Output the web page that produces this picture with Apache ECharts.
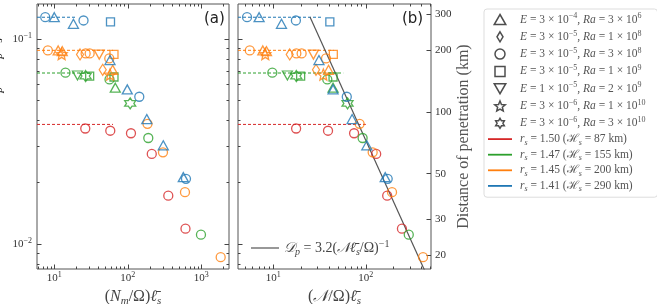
<!doctype html>
<html>
<head>
<meta charset="utf-8">
<title>Penetration distance</title>
<script src="https://cdn.jsdelivr.net/npm/echarts@6/dist/echarts.min.js"></script>
<style>
html, body { margin: 0; padding: 0; background: #fff; }
#chart { width: 657px; height: 304px; }
</style>
</head>
<body>
<div id="chart"></div>
<script>
// rows: [run index (legend marker), (N_m/Ω)l_s, (N/Ω)l_s, D_p]
var redPts = [
  [2, 26.4, 17.7, 0.0366],
  [2, 57.8, 39.1, 0.0357],
  [2, 110.5, 74.7, 0.0347],
  [2, 212, 129.3, 0.0275],
  [2, 355.6, 170, 0.0172],
  [2, 609.5, 245.2, 0.01188]
];
var greenPts = [
  [2, 14.2, 9.8, 0.0685],
  [4, 20.7, 14.25, 0.0664],
  [6, 26.7, 17.8, 0.0660],
  [3, 30.3, 19.8, 0.0660],
  [2, 56.4, 38.4, 0.0635],
  [3, 64.9, 44.3, 0.0653],
  [0, 67.6, 44.3, 0.0579],
  [6, 107.8, 63.5, 0.0485],
  [2, 190.1, 92.3, 0.0329],
  [2, 990, 290.5, 0.0111]
];
var orangePts = [
  [2, 8.18, 5.6, 0.0880],
  [0, 11.3, 7.74, 0.0880],
  [0, 12.85, 8.48, 0.0872],
  [5, 12.6, 8.23, 0.0845],
  [1, 22.4, 15.1, 0.0841],
  [2, 26.7, 17.8, 0.0851],
  [2, 30.3, 20.3, 0.0851],
  [4, 40.9, 27.2, 0.0840],
  [2, 56.0, 37.2, 0.0804],
  [3, 64.9, 44.6, 0.0841],
  [1, 45.6, 29.0, 0.0708],
  [0, 62.3, 39.6, 0.0708],
  [5, 57.3, 34.8, 0.0671],
  [2, 185.4, 85.7, 0.0386],
  [2, 301.2, 118.5, 0.0280],
  [2, 600, 191.7, 0.0179],
  [2, 1836, 414, 0.00862]
];
var bluePts = [
  [2, 7.54, 5.23, 0.1278],
  [0, 10.0, 7.06, 0.1278],
  [0, 18.2, 12.3, 0.1187],
  [2, 25.0, 17.6, 0.1232],
  [3, 58.2, 40.9, 0.1214],
  [0, 57.3, 31.2, 0.0790],
  [0, 98.4, 44.3, 0.0568],
  [2, 143.4, 62.3, 0.0523],
  [0, 181.4, 71.1, 0.0407],
  [0, 304, 102.5, 0.0303],
  [0, 569, 161.8, 0.0212],
  [2, 619, 172.1, 0.0208]
];

// r_s groups: red, green, orange, blue
var rsValues = ['1.50', '1.47', '1.45', '1.41'];
var hsKm = [87, 155, 200, 290];
var plateauEndA = [63, 32, 63, 20];
var plateauEndB = [100, 57, 45, 33];
var kmPerDp = 2270;

// fit D_p = 3.2 (N l_s / Ω)^-1
var fitCoef = 3.2;
var fitRange = [25, 430];

// axis ranges (log10)
var xRangeA = [0.765, 3.377];
var xRangeB = [0.621, 2.703];
var yRange = [-2.122, -0.829];

var xMajorA = [10, 100, 1000];
var xMinorA = [6, 7, 8, 9, 20, 30, 40, 50, 60, 70, 80, 90, 200, 300, 400, 500, 600, 700, 800, 900, 2000];
var xMajorB = [10, 100];
var xMinorB = [5, 6, 7, 8, 9, 20, 30, 40, 50, 60, 70, 80, 90, 200, 300, 400, 500];
var yMajor = [0.01, 0.1];
var yMinor = [0.008, 0.009, 0.02, 0.03, 0.04, 0.05, 0.06, 0.07, 0.08, 0.09];
var kmTicks = [20, 30, 50, 100, 200, 300];

var runLabels = [
  ['3', '\u22124', '3', '6'],
  ['3', '\u22125', '1', '8'],
  ['3', '\u22125', '3', '8'],
  ['3', '\u22125', '1', '9'],
  ['1', '\u22125', '2', '9'],
  ['3', '\u22126', '1', '10'],
  ['3', '\u22126', '3', '10']
];

var LOG = Math.log10;
var SERIF = '"Liberation Serif", "DejaVu Serif", serif';
var colors = ['#d62728', '#2ca02c', '#ff7f0e', '#1f77b4'];
var groups = [redPts, greenPts, orangePts, bluePts];

function starPath(n, inner) {
  var p = [];
  for (var i = 0; i < 2 * n; i++) {
    var r = i % 2 ? inner : 1;
    var a = Math.PI * i / n - Math.PI / 2;
    p.push((10 + 10 * r * Math.cos(a)).toFixed(2) + ',' + (10 + 10 * r * Math.sin(a)).toFixed(2));
  }
  return 'path://M' + p.join('L') + 'Z';
}
var symbols = [
  'path://M10,0L20,17.3L0,17.3Z',
  'path://M6,0L12,10L6,20L0,10Z',
  'path://M10,0A10,10,0,1,1,10,20A10,10,0,1,1,10,0Z',
  'path://M0,0L20,0L20,20L0,20Z',
  'path://M0,0L20,0L10,17.3Z',
  starPath(5, 0.45),
  starPath(6, 0.58)
];
var symSizes = [[10, 9], [7, 11], 9, 8, [10, 9], 11, 11];
var lineIcon = 'path://M0,0L60,0L60,4.5L0,4.5Z';

function rich(size, color, lh) {
  var sm = Math.round(size * 0.7);
  lh = lh || size + 4;
  return {
    n: { fontFamily: SERIF, fontSize: size, color: color, lineHeight: lh, verticalAlign: 'middle' },
    i: { fontFamily: SERIF, fontStyle: 'italic', fontSize: size, color: color, lineHeight: lh, verticalAlign: 'middle' },
    sup: { fontFamily: SERIF, fontSize: sm, color: color, lineHeight: sm + 1, verticalAlign: 'top' },
    sub: { fontFamily: SERIF, fontStyle: 'italic', fontSize: sm, color: color, lineHeight: sm + 1, verticalAlign: 'bottom' }
  };
}

function powLabel(v) {
  var e = Math.round(v);
  return '{n|10}{sup|' + (e < 0 ? '\u2212' + (-e) : e) + '}';
}

function axis(grid, pos, range, ticks, len, label) {
  return {
    type: 'value', gridIndex: grid, position: pos, min: range[0], max: range[1],
    axisLine: { show: false, onZero: false },
    splitLine: { show: false },
    axisTick: { show: true, inside: true, length: len, customValues: ticks.map(LOG), lineStyle: { color: '#444', width: 1 } },
    axisLabel: label || { show: false }
  };
}

var tickLabel = {
  show: true, margin: 2, formatter: powLabel, rich: rich(11, '#333')
};

var xAxes = [
  axis(0, 'bottom', xRangeA, xMajorA, 4.5, Object.assign({ customValues: xMajorA.map(LOG) }, tickLabel)),
  axis(0, 'bottom', xRangeA, xMinorA, 2.5),
  axis(0, 'top', xRangeA, xMajorA, 4.5),
  axis(0, 'top', xRangeA, xMinorA, 2.5),
  axis(1, 'bottom', xRangeB, xMajorB, 4.5, Object.assign({ customValues: xMajorB.map(LOG) }, tickLabel)),
  axis(1, 'bottom', xRangeB, xMinorB, 2.5),
  axis(1, 'top', xRangeB, xMajorB, 4.5),
  axis(1, 'top', xRangeB, xMinorB, 2.5)
];
xAxes[0].name = '{n|(}{i|N}{sub|m}{n|/\u03a9)}{i|\u2113\u0304}{sub|s}';
xAxes[4].name = '{n|(}{i|\ud835\udca9}{n|/\u03a9)}{i|\u2113\u0304}{sub|s}';
[0, 4].forEach(function (k) {
  xAxes[k].nameLocation = 'middle';
  xAxes[k].nameGap = 13;
  xAxes[k].nameTextStyle = { rich: rich(16, '#444') };
});

var kmRange = [yRange[0] + LOG(kmPerDp), yRange[1] + LOG(kmPerDp)];
var yAxes = [
  axis(0, 'left', yRange, yMajor, 4.5, Object.assign({ customValues: yMajor.map(LOG) }, tickLabel, { margin: 5 })),
  axis(0, 'left', yRange, yMinor, 2.5),
  axis(0, 'right', yRange, yMajor, 4.5),
  axis(0, 'right', yRange, yMinor, 2.5),
  axis(1, 'left', yRange, yMajor, 4.5),
  axis(1, 'left', yRange, yMinor, 2.5),
  axis(1, 'right', kmRange, kmTicks, 4.5, {
    show: true, margin: 4, customValues: kmTicks.map(LOG),
    formatter: function (v) { return '{n|' + Math.round(Math.pow(10, v)) + '}'; },
    rich: rich(11, '#333')
  })
];
yAxes[6].name = 'Distance of penetration (km)';
yAxes[6].nameLocation = 'middle';
yAxes[6].nameGap = 24;
yAxes[6].nameTextStyle = { fontFamily: SERIF, fontSize: 16, color: '#555' };

var series = [];
groups.forEach(function (pts, g) {
  var hs = hsKm[g] / kmPerDp;
  series.push({
    type: 'line', xAxisIndex: 0, yAxisIndex: 0, symbol: 'none', silent: true, z: 2,
    lineStyle: { color: colors[g], width: 1, type: [3, 2] },
    data: [[xRangeA[0], LOG(hs)], [LOG(plateauEndA[g]), LOG(hs)]]
  });
  series.push({
    type: 'line', xAxisIndex: 4, yAxisIndex: 4, symbol: 'none', silent: true, z: 2,
    lineStyle: { color: colors[g], width: 1, type: [3, 2] },
    data: [[xRangeB[0], LOG(hs)], [LOG(plateauEndB[g]), LOG(hs)]]
  });
});
groups.forEach(function (pts, g) {
  [[1, 0, 0], [2, 4, 4]].forEach(function (c) {
    series.push({
      type: 'scatter', xAxisIndex: c[1], yAxisIndex: c[2], silent: true, z: 3,
      itemStyle: { color: 'none', borderColor: colors[g], borderWidth: 1.3 },
      data: pts.map(function (p) {
        return { value: [LOG(p[c[0]]), LOG(p[3])], symbol: symbols[p[0]], symbolSize: symSizes[p[0]] };
      })
    });
  });
});
series.push({
  name: 'fit', type: 'line', xAxisIndex: 4, yAxisIndex: 4, symbol: 'none', silent: true, z: 2,
  lineStyle: { color: '#555', width: 1.2 },
  data: fitRange.map(function (x) { return [LOG(x), LOG(fitCoef / x)]; })
});

// legend-only series
var legendNames = {};
var legendData = [];
runLabels.forEach(function (r, k) {
  var name = 'run' + k;
  legendNames[name] = '{i|E}{n| = ' + r[0] + ' \u00d7 10}{sup|' + r[1] + '}{n|, }{i|Ra}{n| = ' + r[2] + ' \u00d7 10}{sup|' + r[3] + '}';
  legendData.push({ name: name, icon: symbols[k], itemStyle: { color: 'none', borderColor: '#222', borderWidth: 1.5 } });
  series.push({ name: name, type: 'scatter', xAxisIndex: 0, yAxisIndex: 0, data: [] });
});
rsValues.forEach(function (rs, g) {
  var name = 'rs' + g;
  legendNames[name] = '{i|r}{sub|s}{n| = ' + rs + ' (\u210b}{sub|s}{n| = ' + hsKm[g] + ' km)}';
  legendData.push({ name: name, icon: lineIcon, itemStyle: { color: colors[g], borderWidth: 0 } });
  series.push({ name: name, type: 'line', xAxisIndex: 0, yAxisIndex: 0, symbol: 'none', data: [], lineStyle: { color: colors[g], width: 2 }, itemStyle: { color: colors[g] } });
});
legendNames.fit = '{i|\ud835\udc9f}{sub|p}{n| = 3.2(}{i|\ud835\udca9\u2113\u0304}{sub|s}{n|/\u03a9)}{sup|\u22121}';

var option = {
  animation: false,
  backgroundColor: '#fff',
  grid: [
    { left: 37, top: 4, width: 192, height: 265, show: true, borderColor: '#555', borderWidth: 1, backgroundColor: 'transparent', containLabel: false, outerBoundsMode: 'none' },
    { left: 238, top: 4, width: 193, height: 265, show: true, borderColor: '#555', borderWidth: 1, backgroundColor: 'transparent', containLabel: false, outerBoundsMode: 'none' }
  ],
  xAxis: xAxes,
  yAxis: yAxes,
  legend: [{
    orient: 'vertical', left: 484, top: 9, selectedMode: false,
    itemWidth: 24, itemHeight: 10, itemGap: 2.3,
    padding: [3, 12, 4, 4],
    backgroundColor: '#fff', borderColor: '#ddd', borderWidth: 1, borderRadius: 3,
    data: legendData,
    formatter: function (n) { return legendNames[n]; },
    textStyle: { padding: [0, 0, 0, 3], rich: rich(11.5, '#555', 14.6) }
  }, {
    left: 251, top: 239, selectedMode: false, padding: 0,
    itemWidth: 28, itemHeight: 12,
    data: [{ name: 'fit', icon: 'path://M0,0L60,0L60,2.6L0,2.6Z', itemStyle: { color: '#555', borderWidth: 0 } }],
    formatter: function (n) { return legendNames[n]; },
    textStyle: { rich: rich(14, '#444') }
  }],
  graphic: [
    { type: 'text', left: 204, top: 12, style: { text: '(a)', fontFamily: '"DejaVu Sans", sans-serif', fontSize: 15, fill: '#222' } },
    { type: 'text', left: 402, top: 12, style: { text: '(b)', fontFamily: '"DejaVu Sans", sans-serif', fontSize: 15, fill: '#222' } },
    { type: 'text', x: 5, y: 72, rotation: Math.PI / 2, style: {
      text: '{i|\ud835\udc9f}{sub|p}{n| = }{i|D}{sub|p}{n|/}{i|r}{sub|s}', align: 'center', verticalAlign: 'bottom', rich: rich(16, '#444') } }
  ],
  series: series
};

var chart = echarts.init(document.getElementById('chart'), null, { renderer: 'canvas' });
chart.setOption(option);
</script>
</body>
</html>
